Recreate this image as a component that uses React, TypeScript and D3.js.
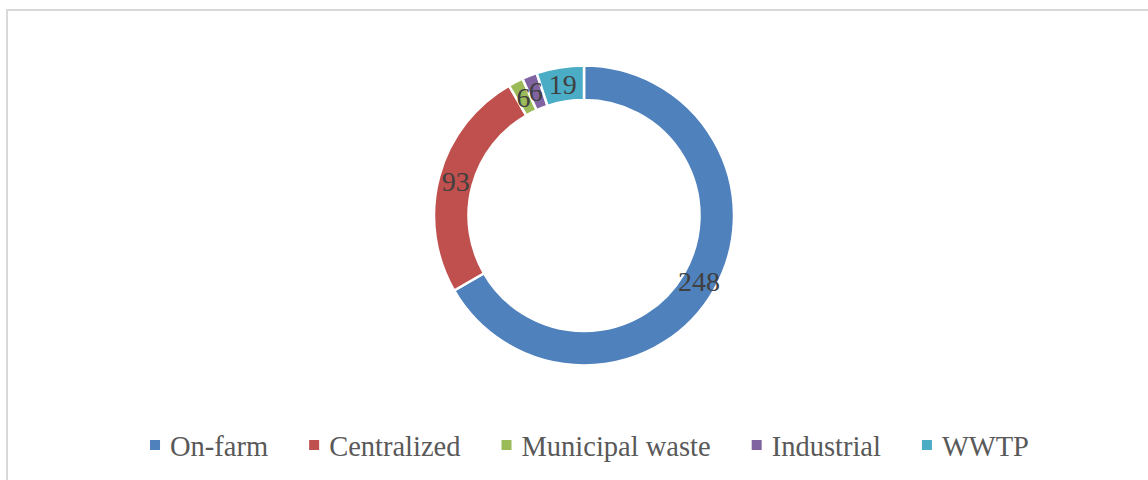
import * as d3 from 'd3';
import React, { useRef, useEffect } from 'react';

// --------------------------------------------------------
// chart data
// --------------------------------------------------------
const categories = ['On-farm', 'Centralized', 'Municipal waste', 'Industrial', 'WWTP'];
const values = [248, 93, 6, 6, 19];
const colors = ['#4f81bd', '#c0504d', '#9bbb59', '#8064a2', '#4bacc6'];

const W = 1148;
const H = 480;

function DonutChart() {
  const svgRef = useRef<SVGSVGElement>(null);

  useEffect(() => {
    const svg = d3.select(svgRef.current)
      .attr('width', W)
      .attr('height', H);
    svg.selectAll('*').remove();

    // chart frame (runs off the right / bottom edge)
    svg.append('rect')
      .attr('x', 7).attr('y', 10)
      .attr('width', W + 20).attr('height', H + 20)
      .attr('fill', '#fff')
      .attr('stroke', '#d9d9d9')
      .attr('stroke-width', 2);

    const cx = 584, cy = 215.5;
    const outerR = 150, innerR = 115.5;

    const pie = d3.pie<number>().sort(null).value(d => d);
    const arcs = pie(values);
    const arc = d3.arc<d3.PieArcDatum<number>>().innerRadius(innerR).outerRadius(outerR);
    const labelArc = d3.arc<d3.PieArcDatum<number>>()
      .innerRadius((innerR + outerR) / 2).outerRadius((innerR + outerR) / 2);

    const g = svg.append('g').attr('transform', `translate(${cx},${cy})`);

    g.selectAll('path.slice')
      .data(arcs)
      .join('path')
      .attr('class', 'slice')
      .attr('d', arc)
      .attr('fill', (d, i) => colors[i])
      .attr('stroke', '#fff')
      .attr('stroke-width', 2.5);

    g.selectAll('text.lbl')
      .data(arcs)
      .join('text')
      .attr('class', 'lbl')
      .attr('transform', d => `translate(${labelArc.centroid(d)})`)
      .attr('text-anchor', 'middle')
      .attr('dominant-baseline', 'central')
      .attr('font-family', '"Liberation Serif", serif')
      .attr('font-size', 28)
      .attr('fill', '#404040')
      .text(d => d.data);

    // legend - measured so that items are spaced like the original
    const legend = svg.append('g').attr('transform', 'translate(0,456)');
    const items = legend.selectAll('g.item')
      .data(categories)
      .join('g')
      .attr('class', 'item');

    items.append('rect')
      .attr('y', -16)
      .attr('width', 10).attr('height', 10)
      .attr('fill', (d, i) => colors[i]);

    const texts = items.append('text')
      .attr('x', 20)
      .attr('font-family', '"Liberation Serif", serif')
      .attr('font-size', 28.5)
      .attr('fill', '#595959')
      .text(d => d);

    const widths: number[] = [];
    texts.each(function () { widths.push((this as SVGTextElement).getComputedTextLength()); });
    const gap = 41;
    const total = d3.sum(widths.map(w => w + 20)) + gap * (widths.length - 1);
    let x = 589.5 - total / 2;
    items.attr('transform', (d, i) => {
      const t = `translate(${x},0)`;
      x += widths[i] + 20 + gap;
      return t;
    });
  }, []);

  return <svg ref={svgRef} style={{ position: 'absolute', left: 0, top: 0 }} />;
}

export default function App() {
  return <DonutChart />;
}
